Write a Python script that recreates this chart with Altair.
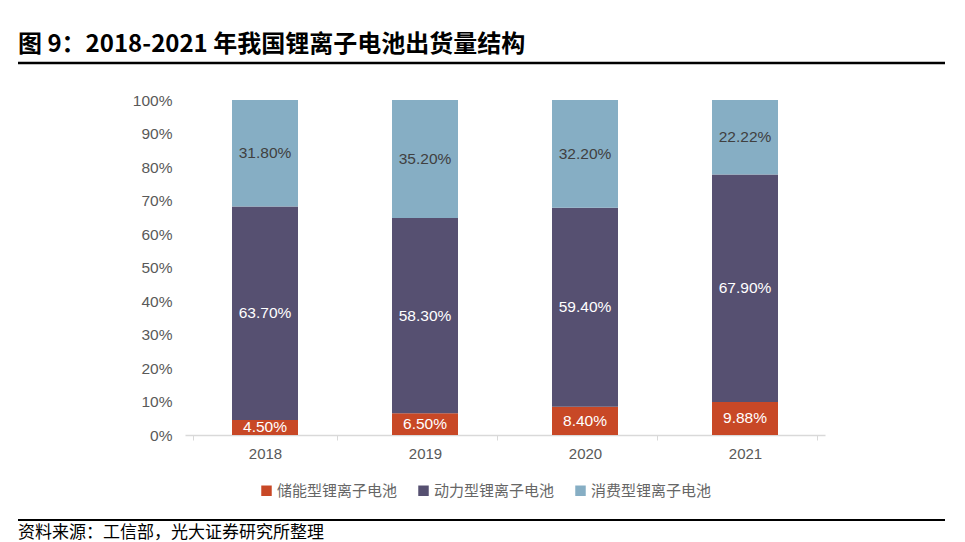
import altair as alt
import pandas as pd

years = ["2018", "2019", "2020", "2021"]
series = ["储能型锂离子电池", "动力型锂离子电池", "消费型锂离子电池"]
storage = [4.50, 6.50, 8.40, 9.88]
power = [63.70, 58.30, 59.40, 67.90]
consumer = [31.80, 35.20, 32.20, 22.22]
colors = ["#C84826", "#565071", "#86AEC4"]
label_colors = ["#FFFFFF", "#FFFFFF", "#404040"]
y_ticks = [0, 10, 20, 30, 40, 50, 60, 70, 80, 90, 100]

title_text = "图 9：2018-2021 年我国锂离子电池出货量结构"
source_text = "资料来源：工信部，光大证券研究所整理"

rows = []
for i, y in enumerate(years):
    base = 0.0
    for j, (s, vals) in enumerate(zip(series, [storage, power, consumer])):
        v = vals[i]
        rows.append({"year": y, "series": s, "idx": j, "v0": base, "v1": base + v,
                     "mid": base + v / 2, "label": f"{v:.2f}%", "lc": label_colors[j]})
        base += v
df = pd.DataFrame(rows)

W, H = 640, 335
FONT = "Liberation Sans"
CJK = "Noto Sans CJK SC"

x_axis = alt.Axis(labelAngle=0, labelFont=FONT, labelFontSize=15, labelColor="#595959",
                  domainColor="#D9D9D9", tickColor="#D9D9D9", tickBand="extent",
                  tickSize=5, labelPadding=6, domainWidth=1.5)
y_axis = alt.Axis(values=y_ticks, labelExpr="datum.value + '%'", labelOverlap=False,
                  domain=False, ticks=False, grid=False, labelFont=FONT,
                  labelFontSize=15.5, labelColor="#595959", labelPadding=13)
y_scale = alt.Scale(domain=[0, 100], nice=False)

bars = alt.Chart(df).mark_bar(size=66).encode(
    x=alt.X("year:N", title=None, sort=years, axis=x_axis),
    y=alt.Y("v0:Q", title=None, scale=y_scale, axis=y_axis),
    y2="v1:Q",
    color=alt.Color("series:N", scale=alt.Scale(domain=series, range=colors),
                    legend=alt.Legend(title=None, orient="none", direction="horizontal",
                                      legendX=74, legendY=383, symbolType="square",
                                      symbolSize=110, symbolStrokeWidth=0,
                                      labelFont=CJK, labelFontSize=15, labelColor="#666666",
                                      columnPadding=18, labelOffset=3)),
)

labels = alt.Chart(df).mark_text(font=FONT, fontSize=15.5).encode(
    x=alt.X("year:N", title=None, sort=years, axis=x_axis),
    y=alt.Y("mid:Q", title=None, scale=y_scale, axis=y_axis),
    text="label:N",
    color=alt.Color("lc:N", scale=None),
)

title = alt.Chart(pd.DataFrame({"t": [title_text]})).mark_text(
    font=CJK, fontSize=24, fontWeight="bold", align="left", baseline="middle", color="#000000"
).encode(x=alt.value(-167), y=alt.value(-55), text="t:N")

top_line = alt.Chart(pd.DataFrame({"a": [0]})).mark_rule(color="#000000", strokeWidth=2.5).encode(
    x=alt.value(-167), x2=alt.value(763), y=alt.value(-37))

bottom_line = alt.Chart(pd.DataFrame({"a": [0]})).mark_rule(color="#000000", strokeWidth=2).encode(
    x=alt.value(-167), x2=alt.value(763), y=alt.value(420))

source = alt.Chart(pd.DataFrame({"t": [source_text]})).mark_text(
    font=CJK, fontSize=17, align="left", baseline="middle", color="#000000"
).encode(x=alt.value(-167), y=alt.value(433), text="t:N")

chart = alt.layer(bars, labels, title, top_line, bottom_line, source).properties(
    width=W, height=H,
    autosize=alt.AutoSizeParams(type="none"),
    padding={"left": 177, "top": 92, "right": 120, "bottom": 107},
).configure(background="#FFFFFF").configure_view(strokeWidth=0, stroke="transparent")

chart.save("out.html", embed_options={"renderer": "svg", "actions": False})
